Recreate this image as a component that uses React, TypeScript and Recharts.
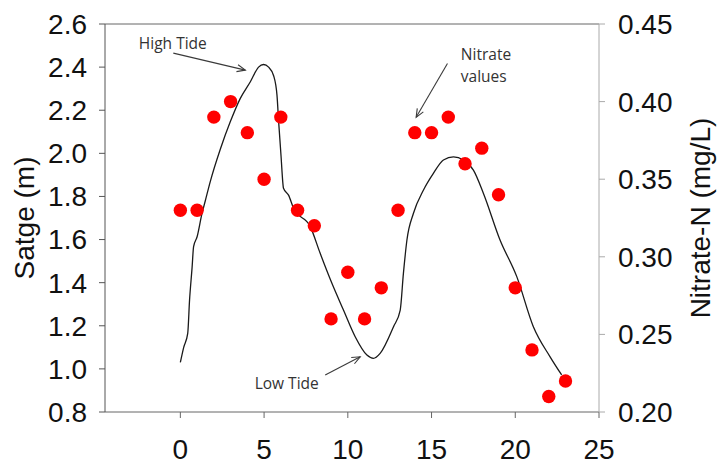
import React from "react";
import {
  ComposedChart,
  Line,
  Scatter,
  XAxis,
  YAxis,
  ReferenceLine,
  ReferenceDot,
} from "recharts";

// tide stage trace (hours, m)
const stageHours = [
  0, 0.2, 0.44, 0.55, 0.7, 0.79, 1.0, 1.29, 1.49, 1.79, 2.39, 2.98, 3.58, 4.18, 4.67, 4.97,
  5.27, 5.57, 5.77, 5.87, 6.01, 6.16, 6.46, 6.76, 7.76, 8.35, 9.05, 9.74, 10.44, 11.14, 11.53,
  11.93, 12.73, 13.13, 13.32, 13.53, 13.92, 14.52, 15.11, 15.71, 16.31, 16.9, 17.5, 18.1,
  19.09, 20.09, 21.08, 22.08, 22.77,
];
const stageLevels = [
  1.03, 1.1, 1.165, 1.32, 1.47, 1.567, 1.613, 1.72, 1.78, 1.87, 2.02, 2.146, 2.255, 2.332, 2.4,
  2.412, 2.4, 2.36, 2.27, 2.146, 1.99, 1.838, 1.806, 1.745, 1.66, 1.536, 1.397, 1.273, 1.149,
  1.064, 1.049, 1.072, 1.196, 1.273, 1.443, 1.598, 1.722, 1.83, 1.907, 1.969, 1.984, 1.969,
  1.922, 1.814, 1.598, 1.428, 1.196, 1.056, 0.972,
];

// nitrate samples (hours, mg/L)
const nitrateHours = [
  0, 1, 2, 3, 4, 5, 6, 7, 8, 9, 10, 11, 12, 13, 14, 15, 16, 17, 18, 19, 20, 21, 22, 23,
];
const nitrateValues = [
  0.33, 0.33, 0.39, 0.4, 0.38, 0.35, 0.39, 0.33, 0.32, 0.26, 0.29, 0.26, 0.28, 0.33, 0.38,
  0.38, 0.39, 0.36, 0.37, 0.34, 0.28, 0.24, 0.21, 0.22,
];

const xTicks = [0, 5, 10, 15, 20, 25];
const stageTicks = [0.8, 1.0, 1.2, 1.4, 1.6, 1.8, 2.0, 2.2, 2.4, 2.6];
const nitrateTicks = [0.2, 0.25, 0.3, 0.35, 0.4, 0.45];

const stageData = stageHours.map((h, i) => ({ hour: h, stage: stageLevels[i] }));
const nitrateData = nitrateHours.map((h, i) => ({ hour: h, nitrate: nitrateValues[i] }));

const axisFont = { fontFamily: "Liberation Sans, Arial, sans-serif", fontSize: 28, fill: "#111" };
const noteFont = { fontFamily: "Open Sans, sans-serif", fontSize: 15.5, fill: "#333" };

const Arrow = (p: any) => {
  const { x1, y1, x2, y2 } = p;
  const a = Math.atan2(y2 - y1, x2 - x1);
  const len = 9;
  const spread = 0.4;
  const ax = x2 - len * Math.cos(a - spread);
  const ay = y2 - len * Math.sin(a - spread);
  const bx = x2 - len * Math.cos(a + spread);
  const by = y2 - len * Math.sin(a + spread);
  return (
    <g stroke="#3a3a3a" strokeWidth={1.1} fill="none">
      <line x1={x1} y1={y1} x2={x2} y2={y2} />
      <polyline points={`${ax},${ay} ${x2},${y2} ${bx},${by}`} />
    </g>
  );
};

const note = (text: string, anchor: "start" | "middle") => (p: any) => (
  <text x={p.cx} y={p.cy} dy="0.35em" textAnchor={anchor} {...noteFont}>
    {text}
  </text>
);

const RedDot = (p: any) => <circle cx={p.cx} cy={p.cy} r={6.7} fill="#ff0000" />;

export default function App() {
  return (
    <div style={{ position: "absolute", left: 0, top: 0, background: "#fff" }}>
      <ComposedChart width={717} height={464} margin={{ top: 24, right: 0, bottom: 0, left: 0 }}>
        <XAxis
          dataKey="hour"
          type="number"
          domain={[-4.5, 25]}
          ticks={xTicks}
          allowDataOverflow
          height={52}
          tickSize={6}
          tickMargin={21}
          stroke="#666"
          tick={axisFont}
        />
        <YAxis
          yAxisId="left"
          domain={[0.8, 2.6]}
          ticks={stageTicks}
          width={105}
          tickSize={6}
          tickMargin={12}
          stroke="#555"
          tick={axisFont}
          tickFormatter={(v: number) => v.toFixed(1)}
          label={{
            value: "Satge (m)",
            angle: -90,
            position: "insideLeft",
            offset: 24,
            textAnchor: "middle",
            style: axisFont,
          }}
        />
        <YAxis
          yAxisId="right"
          orientation="right"
          domain={[0.2, 0.45]}
          ticks={nitrateTicks}
          width={118}
          tickSize={6}
          tickMargin={13}
          stroke="#aaa"
          tick={axisFont}
          tickFormatter={(v: number) => v.toFixed(2)}
          label={{
            value: "Nitrate-N (mg/L)",
            angle: -90,
            position: "insideRight",
            offset: 17,
            textAnchor: "middle",
            style: axisFont,
          }}
        />
        <ReferenceLine yAxisId="left" y={2.6} stroke="#666" ifOverflow="visible" />
        <Line
          yAxisId="left"
          data={stageData}
          dataKey="stage"
          type="monotone"
          stroke="#1a1a1a"
          strokeWidth={1.3}
          dot={false}
          isAnimationActive={false}
        />
        <Scatter
          yAxisId="right"
          data={nitrateData}
          dataKey="nitrate"
          shape={RedDot}
          isAnimationActive={false}
        />
        <ReferenceLine
          yAxisId="left"
          segment={[{ x: -0.42, y: 2.465 }, { x: 3.88, y: 2.386 }]}
          ifOverflow="visible"
          shape={Arrow}
        />
        <ReferenceLine
          yAxisId="left"
          segment={[{ x: 8.65, y: 0.972 }, { x: 10.74, y: 1.056 }]}
          ifOverflow="visible"
          shape={Arrow}
        />
        <ReferenceLine
          yAxisId="left"
          segment={[{ x: 15.95, y: 2.417 }, { x: 14.08, y: 2.167 }]}
          ifOverflow="visible"
          shape={Arrow}
        />
        <ReferenceDot yAxisId="left" x={-0.45} y={2.51} r={0} ifOverflow="visible" shape={note("High Tide", "middle")} />
        <ReferenceDot yAxisId="left" x={6.35} y={0.93} r={0} ifOverflow="visible" shape={note("Low Tide", "middle")} />
        <ReferenceDot yAxisId="left" x={16.75} y={2.459} r={0} ifOverflow="visible" shape={note("Nitrate", "start")} />
        <ReferenceDot yAxisId="left" x={16.75} y={2.358} r={0} ifOverflow="visible" shape={note("values", "start")} />
      </ComposedChart>
    </div>
  );
}
